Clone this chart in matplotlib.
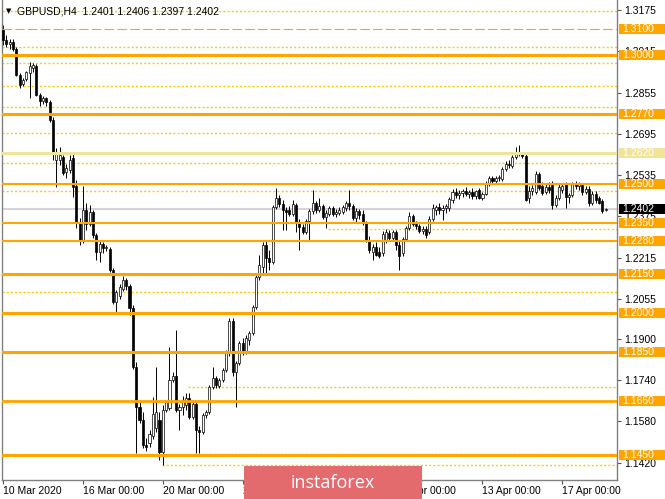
import numpy as np
import matplotlib.pyplot as plt
from matplotlib.patches import Rectangle
from matplotlib.transforms import blended_transform_factory

# ---------------- DATA (GBPUSD H4, 10 Mar - 20 Apr 2020) ----------------
opens = [1.3097, 1.3059, 1.3043, 1.3051, 1.3024, 1.2923, 1.2888, 1.2907, 1.2931, 1.2950,
         1.2958, 1.2845, 1.2822, 1.2834, 1.2818, 1.2748, 1.2593, 1.2593, 1.2605, 1.2547,
         1.2555, 1.2601, 1.2493, 1.2353, 1.2283, 1.2400, 1.2345, 1.2392, 1.2303, 1.2237,
         1.2268, 1.2252, 1.2248, 1.2167, 1.2043, 1.2066, 1.2093, 1.2128, 1.2105, 1.2020,
         1.1791, 1.1636, 1.1586, 1.1489, 1.1497, 1.1524, 1.1555, 1.1586, 1.1462, 1.1624,
         1.1632, 1.1741, 1.1756, 1.1624, 1.1636, 1.1644, 1.1671, 1.1597, 1.1648, 1.1547,
         1.1539, 1.1605, 1.1617, 1.1714, 1.1748, 1.1717, 1.1741, 1.1779, 1.1845, 1.1969,
         1.1772, 1.1807, 1.1884, 1.1853, 1.1896, 1.1923, 1.2024, 1.2140, 1.2179, 1.2264,
         1.2214, 1.2198, 1.2411, 1.2446, 1.2423, 1.2400, 1.2400, 1.2384, 1.2419, 1.2349,
         1.2334, 1.2314, 1.2357, 1.2396, 1.2427, 1.2400, 1.2415, 1.2372, 1.2384, 1.2407,
         1.2384, 1.2388, 1.2392, 1.2407, 1.2427, 1.2415, 1.2369, 1.2396, 1.2384, 1.2349,
         1.2283, 1.2237, 1.2256, 1.2237, 1.2233, 1.2283, 1.2311, 1.2291, 1.2314, 1.2264,
         1.2233, 1.2287, 1.2330, 1.2376, 1.2345, 1.2338, 1.2318, 1.2326, 1.2314, 1.2365,
         1.2400, 1.2411, 1.2400, 1.2407, 1.2407, 1.2438, 1.2469, 1.2458, 1.2466, 1.2473,
         1.2462, 1.2469, 1.2454, 1.2477, 1.2446, 1.2462, 1.2500, 1.2524, 1.2512, 1.2524,
         1.2520, 1.2559, 1.2578, 1.2570, 1.2605, 1.2624, 1.2617, 1.2609, 1.2446, 1.2473,
         1.2469, 1.2539, 1.2493, 1.2469, 1.2489, 1.2497, 1.2419, 1.2446, 1.2477, 1.2500,
         1.2450, 1.2458, 1.2500, 1.2493, 1.2497, 1.2469, 1.2481, 1.2427, 1.2462, 1.2446,
         1.2435, 1.2401]
highs = [1.3117, 1.3078, 1.3062, 1.3062, 1.3031, 1.2931, 1.2911, 1.2938, 1.2973, 1.2969,
         1.2966, 1.2853, 1.2842, 1.2838, 1.2826, 1.2760, 1.2640, 1.2644, 1.2613, 1.2578,
         1.2613, 1.2621, 1.2516, 1.2369, 1.2493, 1.2427, 1.2419, 1.2400, 1.2311, 1.2283,
         1.2276, 1.2264, 1.2256, 1.2175, 1.2090, 1.2113, 1.2144, 1.2136, 1.2113, 1.2031,
         1.1810, 1.1663, 1.1617, 1.1516, 1.1547, 1.1675, 1.1791, 1.1617, 1.1644, 1.1663,
         1.1869, 1.1772, 1.1935, 1.1648, 1.1679, 1.1690, 1.1690, 1.1663, 1.1659, 1.1562,
         1.1613, 1.1624, 1.1721, 1.1791, 1.1756, 1.1748, 1.1787, 1.1857, 1.1981, 1.1981,
         1.1814, 1.1892, 1.1904, 1.1915, 1.1931, 1.2031, 1.2148, 1.2225, 1.2276, 1.2280,
         1.2245, 1.2419, 1.2485, 1.2458, 1.2438, 1.2411, 1.2415, 1.2438, 1.2427, 1.2365,
         1.2345, 1.2365, 1.2403, 1.2477, 1.2435, 1.2446, 1.2423, 1.2400, 1.2415, 1.2415,
         1.2403, 1.2411, 1.2419, 1.2435, 1.2477, 1.2423, 1.2407, 1.2403, 1.2400, 1.2357,
         1.2299, 1.2268, 1.2276, 1.2256, 1.2318, 1.2326, 1.2322, 1.2322, 1.2322, 1.2283,
         1.2295, 1.2338, 1.2392, 1.2384, 1.2357, 1.2345, 1.2338, 1.2338, 1.2376, 1.2423,
         1.2419, 1.2427, 1.2419, 1.2423, 1.2450, 1.2481, 1.2485, 1.2477, 1.2481, 1.2489,
         1.2477, 1.2485, 1.2477, 1.2485, 1.2469, 1.2512, 1.2531, 1.2531, 1.2531, 1.2535,
         1.2566, 1.2590, 1.2593, 1.2613, 1.2644, 1.2650, 1.2624, 1.2617, 1.2493, 1.2497,
         1.2551, 1.2547, 1.2508, 1.2500, 1.2508, 1.2512, 1.2458, 1.2500, 1.2504, 1.2508,
         1.2466, 1.2508, 1.2512, 1.2508, 1.2504, 1.2493, 1.2493, 1.2473, 1.2473, 1.2454,
         1.2442, 1.2406]
lows = [1.3039, 1.3031, 1.3024, 1.3016, 1.2919, 1.2873, 1.2880, 1.2900, 1.2834, 1.2935,
        1.2842, 1.2803, 1.2810, 1.2803, 1.2741, 1.2593, 1.2489, 1.2574, 1.2535, 1.2524,
        1.2543, 1.2450, 1.2330, 1.2264, 1.2272, 1.2322, 1.2338, 1.2291, 1.2206, 1.2198,
        1.2233, 1.2241, 1.2159, 1.2035, 1.2004, 1.2055, 1.2086, 1.2090, 1.1993, 1.1783,
        1.1458, 1.1574, 1.1477, 1.1466, 1.1481, 1.1512, 1.1539, 1.1431, 1.1411, 1.1617,
        1.1624, 1.1733, 1.1617, 1.1547, 1.1605, 1.1624, 1.1590, 1.1590, 1.1458, 1.1458,
        1.1531, 1.1593, 1.1609, 1.1706, 1.1710, 1.1710, 1.1733, 1.1772, 1.1834, 1.1756,
        1.1636, 1.1799, 1.1838, 1.1841, 1.1876, 1.1915, 1.2016, 1.2128, 1.2148, 1.2155,
        1.2167, 1.2190, 1.2403, 1.2411, 1.2322, 1.2322, 1.2376, 1.2376, 1.2314, 1.2245,
        1.2307, 1.2307, 1.2283, 1.2384, 1.2388, 1.2392, 1.2365, 1.2330, 1.2376, 1.2376,
        1.2372, 1.2380, 1.2384, 1.2396, 1.2400, 1.2361, 1.2349, 1.2365, 1.2341, 1.2276,
        1.2233, 1.2206, 1.2221, 1.2214, 1.2221, 1.2272, 1.2283, 1.2280, 1.2245, 1.2167,
        1.2221, 1.2280, 1.2322, 1.2338, 1.2326, 1.2311, 1.2307, 1.2291, 1.2307, 1.2357,
        1.2380, 1.2384, 1.2361, 1.2388, 1.2396, 1.2427, 1.2446, 1.2442, 1.2450, 1.2454,
        1.2446, 1.2442, 1.2442, 1.2442, 1.2438, 1.2458, 1.2493, 1.2500, 1.2504, 1.2512,
        1.2512, 1.2551, 1.2562, 1.2562, 1.2597, 1.2609, 1.2601, 1.2435, 1.2427, 1.2458,
        1.2462, 1.2477, 1.2458, 1.2462, 1.2466, 1.2403, 1.2411, 1.2438, 1.2466, 1.2407,
        1.2427, 1.2450, 1.2481, 1.2477, 1.2458, 1.2462, 1.2415, 1.2419, 1.2427, 1.2423,
        1.2388, 1.2397]
closes = [1.3059, 1.3043, 1.3051, 1.3024, 1.2923, 1.2884, 1.2904, 1.2935, 1.2958, 1.2962,
          1.2845, 1.2822, 1.2834, 1.2818, 1.2748, 1.2624, 1.2621, 1.2613, 1.2543, 1.2562,
          1.2593, 1.2489, 1.2353, 1.2280, 1.2400, 1.2345, 1.2392, 1.2303, 1.2237, 1.2268,
          1.2252, 1.2256, 1.2167, 1.2043, 1.2082, 1.2101, 1.2128, 1.2105, 1.2020, 1.1791,
          1.1636, 1.1586, 1.1489, 1.1481, 1.1531, 1.1609, 1.1617, 1.1462, 1.1624, 1.1655,
          1.1741, 1.1756, 1.1624, 1.1636, 1.1663, 1.1671, 1.1597, 1.1648, 1.1547, 1.1539,
          1.1605, 1.1617, 1.1714, 1.1748, 1.1721, 1.1741, 1.1779, 1.1845, 1.1969, 1.1772,
          1.1807, 1.1884, 1.1853, 1.1904, 1.1923, 1.2024, 1.2140, 1.2186, 1.2264, 1.2214,
          1.2198, 1.2411, 1.2446, 1.2423, 1.2400, 1.2392, 1.2384, 1.2423, 1.2349, 1.2334,
          1.2314, 1.2357, 1.2396, 1.2427, 1.2400, 1.2415, 1.2372, 1.2388, 1.2407, 1.2384,
          1.2392, 1.2400, 1.2411, 1.2427, 1.2415, 1.2369, 1.2396, 1.2380, 1.2349, 1.2283,
          1.2245, 1.2256, 1.2225, 1.2221, 1.2307, 1.2314, 1.2291, 1.2314, 1.2264, 1.2221,
          1.2287, 1.2330, 1.2376, 1.2345, 1.2338, 1.2318, 1.2326, 1.2303, 1.2365, 1.2407,
          1.2411, 1.2400, 1.2407, 1.2415, 1.2442, 1.2469, 1.2458, 1.2466, 1.2473, 1.2462,
          1.2469, 1.2454, 1.2473, 1.2446, 1.2462, 1.2500, 1.2524, 1.2512, 1.2524, 1.2528,
          1.2559, 1.2578, 1.2574, 1.2605, 1.2624, 1.2617, 1.2609, 1.2438, 1.2473, 1.2485,
          1.2539, 1.2485, 1.2466, 1.2489, 1.2477, 1.2419, 1.2446, 1.2489, 1.2493, 1.2450,
          1.2458, 1.2500, 1.2493, 1.2500, 1.2469, 1.2481, 1.2427, 1.2462, 1.2438, 1.2427,
          1.2396, 1.2402]

date_ticks = [0, 24, 48, 72, 96, 120, 144, 168]
date_labels = ["10 Mar 2020", "16 Mar 00:00", "20 Mar 00:00", "26 Mar 00:00",
               "1 Apr 00:00", "7 Apr 00:00", "13 Apr 00:00", "17 Apr 00:00"]
price_ticks = [1.3175, 1.3015, 1.2855, 1.2695, 1.2535, 1.2375, 1.2215,
               1.2055, 1.1900, 1.1740, 1.1580, 1.1420]

# horizontal levels
solid_levels = [1.3000, 1.2770, 1.2500, 1.2350, 1.2280, 1.2150, 1.2000, 1.1850, 1.1660, 1.1450]
solid_widths = [2.2, 2.2, 1.5, 1.5, 1.5, 2.2, 2.2, 2.2, 2.0, 2.2]
pale_level = 1.2620
dashed_level = 1.3100
bid = 1.2402
dotted_levels = [1.3170, 1.3030, 1.2970, 1.2880, 1.2800, 1.2700, 1.2580, 1.2475, 1.2080]
dotted_from = [(1.2325, 97.6), (1.1715, 55.5), (1.1455, 35.7), (1.1410, 47.7)]

ORANGE = "#ffa500"
PALE = "#efe49a"
DOT = "#ffcc00"

# ---------------- FIGURE ----------------
fig = plt.figure(figsize=(6.65, 4.99), dpi=100)
ax = fig.add_axes([2 / 665, 19 / 499, 615 / 665, 480 / 499])
XMAX = 184.4
ax.set_xlim(-0.3, XMAX)
ax.set_ylim(1.13531, 1.32136)

o = np.array(opens)
h = np.array(highs)
l = np.array(lows)
c = np.array(closes)
x = np.arange(len(o))

# candles
ax.vlines(x, l, h, color="black", lw=0.7, zorder=2)
bottoms = np.minimum(o, c)
heights = np.maximum(np.abs(c - o), 0.00008)
face = ["white" if cc >= oo else "black" for oo, cc in zip(o, c)]
ax.bar(x, heights, bottom=bottoms, width=0.62, color=face, edgecolor="black",
       linewidth=0.5, zorder=3)

# levels
ax.axhline(bid, color="#d4d4d4", lw=1.4, zorder=1)
for lv in dotted_levels:
    ax.axhline(lv, color=DOT, lw=1.0, ls=(0, (1.5, 1.5)), zorder=1.5)
for lv, start in dotted_from:
    ax.hlines(lv, start, XMAX, color=DOT, lw=1.0, ls=(0, (1.5, 1.5)), zorder=1.5)
ax.axhline(dashed_level, color=ORANGE, lw=0.8, ls=(0, (8.5, 3)), zorder=4)
ax.axhline(pale_level, color=PALE, lw=2.2, zorder=4)
for lv, w in zip(solid_levels, solid_widths):
    ax.axhline(lv, color=ORANGE, lw=w, zorder=4)

# axes look
ax.spines["top"].set_visible(False)
for side in ["left", "right", "bottom"]:
    ax.spines[side].set_color("#808080")
    ax.spines[side].set_linewidth(1.0)

ax.yaxis.tick_right()
ax.set_yticks(price_ticks)
ax.set_yticklabels([f"{p:.4f}" for p in price_ticks])
ax.tick_params(axis="y", direction="out", length=3, width=0.8, color="#555555",
               labelsize=7.5, pad=2, labelcolor="black")
ax.set_xticks(date_ticks)
ax.set_xticklabels(date_labels, ha="left")
ax.tick_params(axis="x", direction="out", length=3, width=0.8, color="#555555",
               labelsize=7.5, pad=1.5, labelcolor="black")
for t in ax.get_xticklabels() + ax.get_yticklabels():
    t.set_family("Liberation Sans")

# price label boxes on the right (they sit over the axis labels, as in MT4)
tr = blended_transform_factory(ax.transAxes, ax.transData)
half = 0.00194
boxes = [(lv, ORANGE) for lv in solid_levels] + [(dashed_level, ORANGE), (pale_level, PALE), (bid, "black")]
for lv, col in boxes:
    ax.add_patch(Rectangle((1.0033, lv - half), 0.08, 2 * half, transform=tr,
                           facecolor=col, edgecolor="none", clip_on=False, zorder=6))
    ax.text(1.0081, lv, f"{lv:.4f}", transform=tr, color="white", fontsize=7.5,
            family="Liberation Sans", va="center", ha="left", clip_on=False, zorder=7)

# symbol caption
fig.text(6 / 665, 1 - 11 / 499, "\u25bc", fontsize=5, va="center", ha="left")
fig.text(17 / 665, 1 - 11 / 499, "GBPUSD,H4  1.2401 1.2406 1.2397 1.2402",
         fontsize=7.5, family="Liberation Sans", va="center", ha="left")

# watermark
fig.add_artist(Rectangle((244 / 665, 0), 178 / 665, 33 / 499, transform=fig.transFigure,
                         facecolor="#e36b6e", edgecolor="none", zorder=10))
fig.text(333 / 665, 16 / 499, "instaforex", color="white", fontsize=13,
         family="Open Sans", ha="center", va="center", zorder=11)

fig.savefig("out.png", dpi=100)
